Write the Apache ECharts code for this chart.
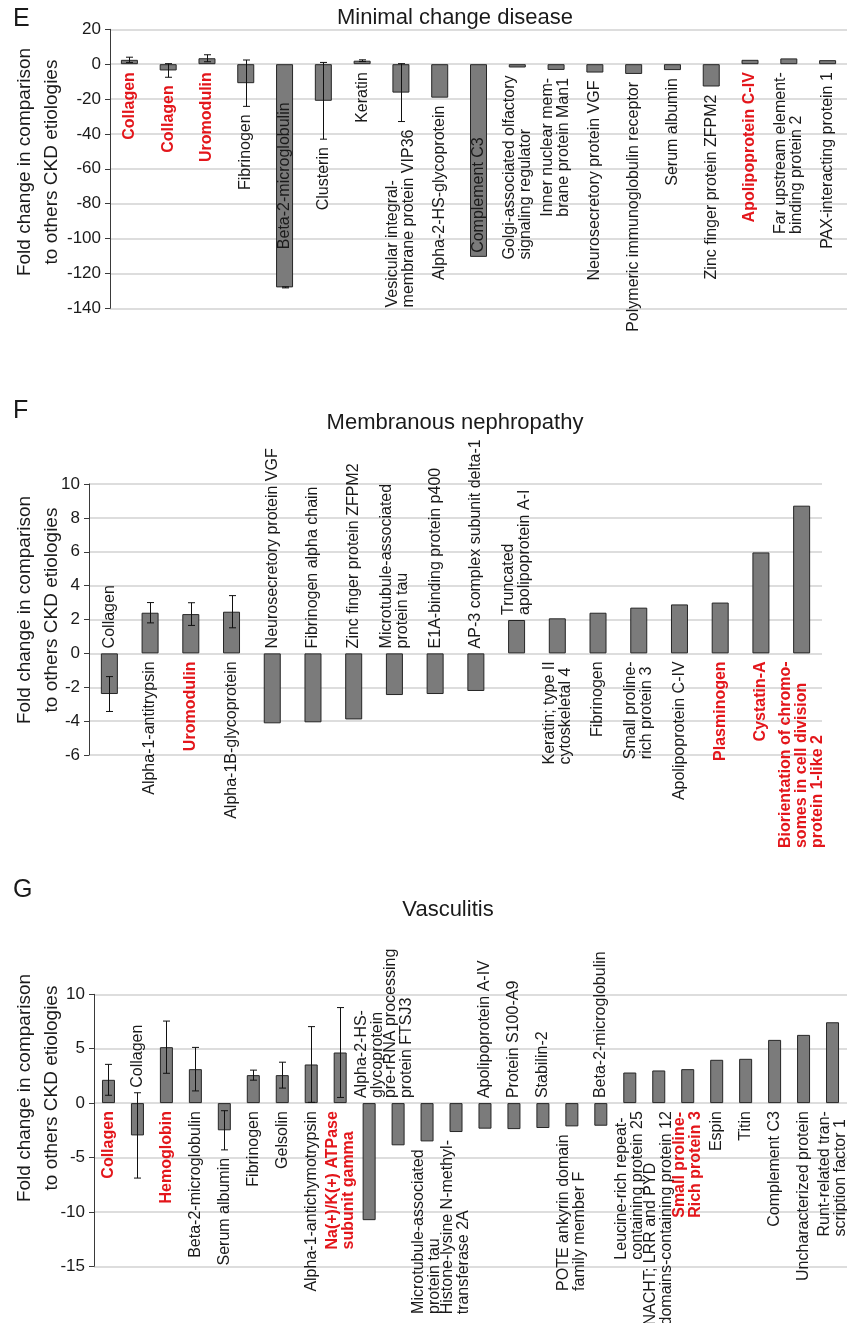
<!DOCTYPE html>
<html>
<head>
<meta charset="utf-8">
<script src="https://cdn.jsdelivr.net/npm/echarts@6/dist/echarts.min.js"></script>
<style>
html,body{margin:0;padding:0;background:#fff;}
#chart{width:847px;height:1323px;}
</style>
</head>
<body>
<div id="chart"></div>
<script>
// ---------- Panel E: Minimal change disease ----------
const eCategories = [
  "Collagen", "Collagen", "Uromodulin", "Fibrinogen", "Beta-2-microglobulin", "Clusterin", "Keratin",
  "Vesicular integral-\nmembrane protein VIP36", "Alpha-2-HS-glycoprotein", "Complement C3",
  "Golgi-associated olfactory\nsignaling regulator", "Inner nuclear mem-\nbrane protein Man1",
  "Neurosecretory protein VGF", "Polymeric immunoglobulin receptor", "Serum albumin",
  "Zinc finger protein ZFPM2", "Apolipoprotein C-IV", "Far upstream element-\nbinding protein 2",
  "PAX-interacting protein 1"
];
const eValues = [2.5, -3.6, 3.4, -10.9, -128, -21, 2.0, -16.3, -19.2, -110.5, -1.9, -3.3, -4.8, -5.6, -3.4, -12.8, 2.5, 3.3, 2.3];
const eErrors = [1.5, 3.9, 2.0, 13.3, 0.3, 22, 0.5, 16.6, null, null, null, null, null, null, null, null, null, null, null];
const eHighlight = [1, 1, 1, 0, 0, 0, 0, 0, 0, 0, 0, 0, 0, 0, 0, 0, 1, 0, 0];
const ePlacement = ['B','B','B','B','M','B','B','B','B','I','B','B','B','B','B','B','B','B','B'];
const eTicks = {min: -140, max: 20, interval: 20};

// ---------- Panel F: Membranous nephropathy ----------
const fCategories = [
  "Collagen", "Alpha-1-antitrypsin", "Uromodulin", "Alpha-1B-glycoprotein", "Neurosecretory protein VGF",
  "Fibrinogen alpha chain", "Zinc finger protein ZFPM2", "Microtubule-associated\nprotein tau",
  "E1A-binding protein p400", "AP-3 complex subunit delta-1", "Truncated\napolipoprotein A-I",
  "Keratin; type II\ncytoskeletal 4", "Fibrinogen", "Small proline-\nrich protein 3", "Apolipoprotein C-IV",
  "Plasminogen", "Cystatin-A", "Biorientation of chromo-\nsomes in cell division\nprotein 1-like 2"
];
const fValues = [-2.4, 2.4, 2.32, 2.46, -4.13, -4.07, -3.9, -2.46, -2.4, -2.22, 1.97, 2.07, 2.4, 2.7, 2.89, 3.0, 5.96, 8.72];
const fErrors = [1.03, 0.6, 0.67, 0.95, null, null, null, null, null, null, null, null, null, null, null, null, null, null];
const fHighlight = [0, 0, 1, 0, 0, 0, 0, 0, 0, 0, 0, 0, 0, 0, 0, 1, 1, 1];
const fPlacement = ['A','B','B','B','A','A','A','A','A','A','A','B','B','B','B','B','B','B'];
const fTicks = {min: -6, max: 10, interval: 2};

// ---------- Panel G: Vasculitis ----------
const gCategories = [
  "Collagen", "Collagen", "Hemoglobin", "Beta-2-microglobulin", "Serum albumin", "Fibrinogen", "Gelsolin",
  "Alpha-1-antichymotrypsin", "Na(+)/K(+) ATPase\nsubunit gamma", "Alpha-2-HS-\nglycoprotein",
  "pre-rRNA processing\nprotein FTSJ3", "Microtubule-associated\nprotein tau",
  "Histone-lysine N-methyl-\ntransferase 2A", "Apolipoprotein A-IV", "Protein S100-A9", "Stabilin-2",
  "POTE ankyrin domain\nfamily member F", "Beta-2-microglobulin", "Leucine-rich repeat-\ncontaining protein 25",
  "NACHT; LRR and PYD\ndomains-containing protein 12", "Small proline-\nRich protein 3", "Espin", "Titin",
  "Complement C3", "Uncharacterized protein", "Runt-related tran-\nscription factor 1"
];
const gValues = [2.14, -2.97, 5.14, 3.12, -2.5, 2.57, 2.57, 3.55, 4.65, -10.76, -3.88, -3.52, -2.66, -2.35, -2.39, -2.29, -2.14, -2.08, 2.81, 3.0, 3.12, 3.98, 4.07, 5.81, 6.27, 7.43];
const gErrors = [1.42, 3.92, 2.4, 2.0, 1.8, 0.46, 1.19, 3.48, 4.13, null, null, null, null, null, null, null, null, null, null, null, null, null, null, null, null, null];
const gHighlight = [1, 0, 1, 0, 0, 0, 0, 0, 1, 0, 0, 0, 0, 0, 0, 0, 0, 0, 0, 0, 1, 0, 0, 0, 0, 0];
const gPlacement = ['B','A','B','B','B','B','B','B','B','A','A','B','B','A','A','A','B','A','B','B','B','B','B','B','B','B'];
const gTicks = {min: -15, max: 10, interval: 5};

// ---------- styling / layout ----------
const FONT = '"Liberation Sans", Arial, sans-serif';
const RED = '#e3161b';
const BAR_FILL = '#7b7b7b';
const BAR_EDGE = '#262626';
const panels = [
  {cats: eCategories, vals: eValues, errs: eErrors, red: eHighlight, place: ePlacement, ticks: eTicks,
   grid: {left: 110, top: 29.3, width: 737, height: 279}, barWidth: 17,
   title: 'Minimal change disease', titleX: 455, titleY: 18, letter: 'E', letterY: 19, nameY: 162},
  {cats: fCategories, vals: fValues, errs: fErrors, red: fHighlight, place: fPlacement, ticks: fTicks,
   grid: {left: 89, top: 484, width: 733, height: 271}, barWidth: 17,
   title: 'Membranous nephropathy', titleX: 455, titleY: 423, letter: 'F', letterY: 411, nameY: 610},
  {cats: gCategories, vals: gValues, errs: gErrors, red: gHighlight, place: gPlacement, ticks: gTicks,
   grid: {left: 94, top: 994.3, width: 757, height: 272}, barWidth: 13,
   title: 'Vasculitis', titleX: 448, titleY: 910, letter: 'G', letterY: 890, nameY: 1088}
];

const measureCtx = document.createElement('canvas').getContext('2d');
function blockWidth(text, bold) {
  measureCtx.font = (bold ? 'bold ' : '') + '16px ' + FONT;
  return Math.max.apply(null, text.split('\n').map(l => measureCtx.measureText(l).width));
}

const grids = [], xAxes = [], yAxes = [], series = [], graphics = [];
panels.forEach((P, k) => {
  grids.push(Object.assign({containLabel: false}, P.grid));
  xAxes.push({type: 'category', gridIndex: k, data: P.cats, show: false, boundaryGap: true});
  yAxes.push({
    type: 'value', gridIndex: k, min: P.ticks.min, max: P.ticks.max, interval: P.ticks.interval,
    axisLine: {show: true, lineStyle: {color: '#3a3a3a', width: 1}},
    axisTick: {show: true, length: 5, lineStyle: {color: '#3a3a3a'}},
    axisLabel: {color: '#1a1a1a', fontSize: 17, fontFamily: FONT, margin: 9},
    splitLine: {show: true, lineStyle: {color: '#d2d2d2', width: 1.5}}
  });
  series.push({
    type: 'bar', xAxisIndex: k, yAxisIndex: k, data: P.vals, barWidth: P.barWidth,
    itemStyle: {color: BAR_FILL, borderColor: BAR_EDGE, borderWidth: 1}, silent: true, z: 2
  });
  // error bars
  series.push({
    type: 'custom', xAxisIndex: k, yAxisIndex: k, z: 3, silent: true,
    data: P.vals.map((v, i) => [i, v]),
    renderItem: function (params, api) {
      const i = params.dataIndex;
      const e = P.errs[i];
      if (e == null) return null;
      const v = P.vals[i];
      const top = api.coord([i, v + e]);
      const bot = api.coord([i, v - e]);
      const x = Math.round(top[0]) + 0.5;
      const cap = 3.5;
      const st = {stroke: '#111', lineWidth: 1};
      return {type: 'group', children: [
        {type: 'line', shape: {x1: x, y1: top[1], x2: x, y2: bot[1]}, style: st},
        {type: 'line', shape: {x1: x - cap, y1: top[1], x2: x + cap, y2: top[1]}, style: st},
        {type: 'line', shape: {x1: x - cap, y1: bot[1], x2: x + cap, y2: bot[1]}, style: st}
      ]};
    }
  });
  // rotated data labels
  series.push({
    type: 'custom', xAxisIndex: k, yAxisIndex: k, z: 4, silent: true, clip: false,
    data: P.vals.map((v, i) => [i, v]),
    renderItem: function (params, api) {
      const i = params.dataIndex;
      const v = P.vals[i];
      const e = P.errs[i] || 0;
      const hi = Math.max(0, v, v + e);
      const lo = Math.min(0, v, v - e);
      const bold = !!P.red[i];
      const text = P.cats[i];
      const w = blockWidth(text, bold);
      const x = api.coord([i, 0])[0];
      let start;
      const mode = P.place[i];
      if (mode === 'B') start = api.coord([i, lo])[1] + 8 + w;
      else if (mode === 'A') start = api.coord([i, hi])[1] - 5;
      else if (mode === 'I') start = api.coord([i, v])[1] - 4;
      else { const c = (api.coord([i, 0])[1] + api.coord([i, v])[1]) / 2; start = c + w / 2; }
      return {
        type: 'text', x: x, y: start, rotation: Math.PI / 2,
        style: {text: text, font: (bold ? 'bold ' : '') + '16px ' + FONT, fill: bold ? RED : '#1a1a1a',
                align: 'left', verticalAlign: 'middle', lineHeight: 16}
      };
    }
  });
  graphics.push({type: 'text', x: P.titleX, y: P.titleY, silent: true,
    style: {text: P.title, font: '22px ' + FONT, fill: '#1a1a1a', align: 'center', verticalAlign: 'middle'}});
  graphics.push({type: 'text', x: 13, y: P.letterY, silent: true,
    style: {text: P.letter, font: '25px ' + FONT, fill: '#1a1a1a', align: 'left', verticalAlign: 'middle'}});
  graphics.push({type: 'text', x: 38, y: P.nameY, rotation: Math.PI / 2, silent: true,
    style: {text: 'Fold change in comparison\nto others CKD etiologies', font: '19px ' + FONT, fill: '#1a1a1a',
            align: 'center', verticalAlign: 'middle', lineHeight: 27}});
});

const chart = echarts.init(document.getElementById('chart'), null, {renderer: 'canvas'});
chart.setOption({
  animation: false,
  backgroundColor: '#ffffff',
  grid: grids, xAxis: xAxes, yAxis: yAxes, series: series, graphic: graphics
});
</script>
</body>
</html>
